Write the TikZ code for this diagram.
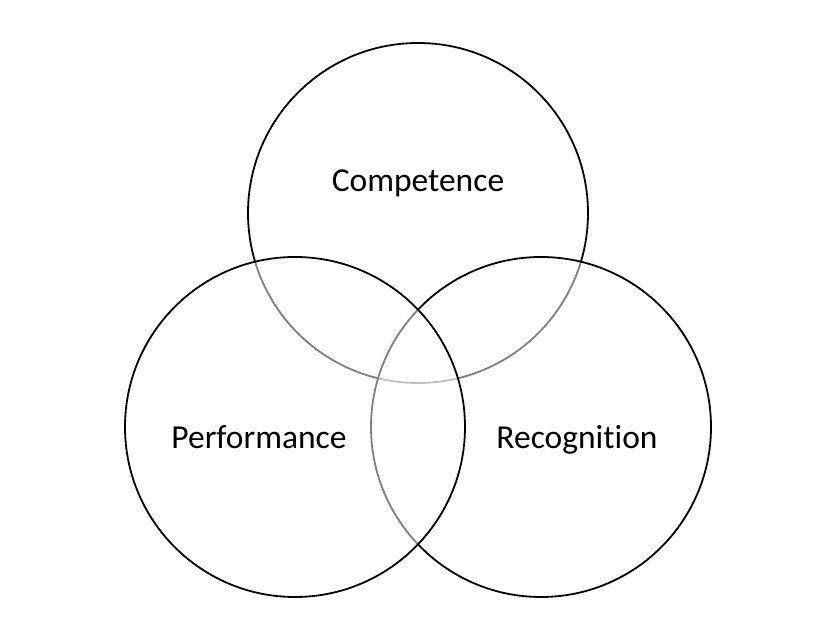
\documentclass[tikz,border=0pt]{standalone}
\usepackage{fontspec}
\setmainfont{Carlito}[Ligatures = NoCommon]
\usetikzlibrary{positioning}

\begin{document}
\begin{tikzpicture}[
        x = 1pt, y = 1pt,
        every ring/.style = {circle, draw = black, line width = 1.8pt,
                             fill = white, fill opacity = 0.5,
                             minimum size = 340pt, inner sep = 0pt},
        every tag/.style  = {font = \fontsize{33.5}{40}\selectfont,
                             inner sep = 0pt, anchor = base}
    ]

      \useasboundingbox (0,0) rectangle (836,640);

      % rings, top one first so the lower two cover it
      \node[every ring] (c_top)   at (418,427) {};
      \node[every ring] (c_right) at (541,213) {};
      \node[every ring] (c_left)  at (295,213) {};

      \node[every tag] (t_top)   at (418,448) {Competence};
      \node[every tag] (t_left)  at (259,191) {Performance};
      \node[every tag] (t_right) at (577,191) {Recognition};

    \end{tikzpicture}
\end{document}
